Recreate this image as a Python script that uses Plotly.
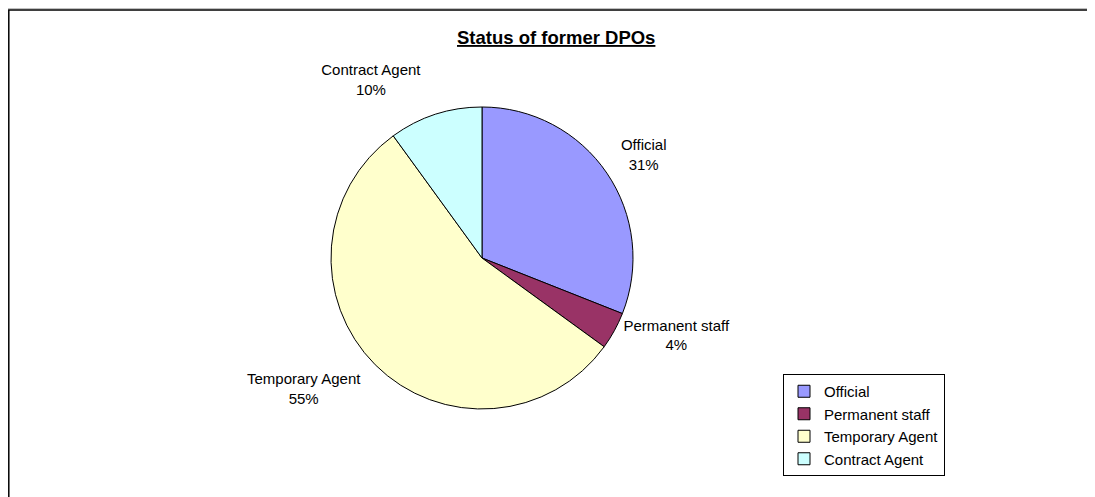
import plotly.graph_objects as go

categories = ["Official", "Permanent staff", "Temporary Agent", "Contract Agent"]
values = [31, 4, 55, 10]
colors = ["#9999FF", "#993366", "#FFFFCC", "#CCFFFF"]
title_text = "Status of former DPOs"

# page body has an 8px margin; figure sized to fit the window
W, H = 1087, 489
cx, cy, r = 474, 250, 151
FONT = "Arial, Liberation Sans, sans-serif"

# label templates: blank lines nudge label blocks like Excel's placement
templates = [
    "%{label}<br>%{percent:.0%}<br> ",
    "%{label}<br>%{percent:.0%}",
    " <br>%{label}<br>%{percent:.0%}",
    "%{label}<br>%{percent:.0%}<br> ",
]

fig = go.Figure(go.Pie(
    labels=categories,
    values=values,
    sort=False,
    direction="clockwise",
    rotation=0,
    marker=dict(colors=colors, line=dict(color="black", width=1)),
    textposition="outside",
    texttemplate=templates,
    textfont=dict(family=FONT, size=15, color="black"),
    domain=dict(x=[(cx - r) / W, (cx + r) / W], y=[1 - (cy + r) / H, 1 - (cy - r) / H]),
    automargin=False,
    hoverinfo="label+percent",
))

fig.update_layout(
    width=W, height=H,
    margin=dict(l=0, r=0, t=0, b=0),
    paper_bgcolor="white",
    plot_bgcolor="white",
    font=dict(family=FONT, color="black"),
    showlegend=True,
    legend=dict(
        x=775 / W, y=1 - 366 / H, xanchor="left", yanchor="top",
        bordercolor="black", borderwidth=1, bgcolor="white",
        font=dict(size=15, color="black", family=FONT),
    ),
    annotations=[dict(
        text="<b><u>" + title_text + "</u></b>",
        x=548 / W, y=1 - 29 / H, xref="paper", yref="paper",
        xanchor="center", yanchor="middle", showarrow=False,
        font=dict(size=18.5, color="black", family=FONT),
    )],
    shapes=[
        dict(type="line", xref="paper", yref="paper", x0=0, x1=1, y0=1 - 0.5 / H, y1=1 - 0.5 / H,
             line=dict(color="#C0C0C0", width=1)),
        dict(type="rect", xref="paper", yref="paper", x0=0.8 / W, x1=1.05, y0=-0.05, y1=1 - 2 / H,
             line=dict(color="black", width=1.5)),
    ],
)

fig.write_html("out.html")
